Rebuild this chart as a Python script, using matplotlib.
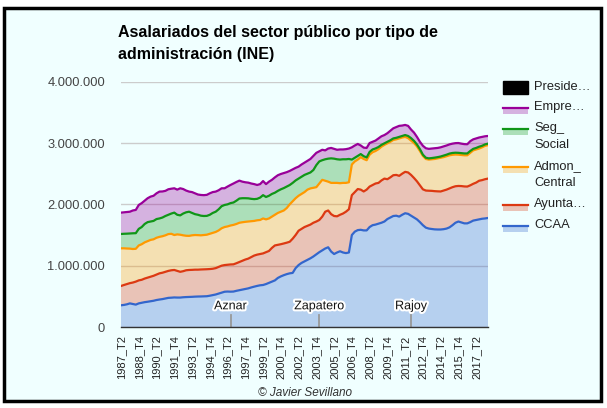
import numpy as np
import matplotlib
matplotlib.use("Agg")
import matplotlib.pyplot as plt
from matplotlib.patches import Rectangle
from matplotlib.lines import Line2D
import matplotlib.patheffects as pe

plt.rcParams['font.family'] = ['Liberation Sans', 'DejaVu Sans']

# ---------------- data (thousands of employees, quarterly 1987_T2 .. 2018_T2) ----------------
first_year, first_q = 1987, 2
n_quarters = 125
quarters = []
y, q = first_year, first_q
for _ in range(n_quarters):
    quarters.append(f"{y}_T{q}")
    q += 1
    if q > 4:
        q = 1
        y += 1

ccaa = [354, 360, 370, 385, 375, 365, 385, 395, 405, 412, 420, 428, 440, 448, 455, 465, 475, 478, 482, 480,
        480, 485, 488, 490, 492, 495, 497, 498, 500, 502, 510, 520, 530, 545, 560, 575, 578, 576, 578, 590,
        600, 610, 620, 630, 645, 658, 670, 680, 685, 700, 720, 740, 760, 800, 825, 845, 862, 875, 882, 960,
        1010, 1045, 1070, 1095, 1120, 1150, 1185, 1220, 1250, 1280, 1300, 1230, 1190, 1215, 1235, 1215, 1205, 1215, 1500, 1555,
        1580, 1585, 1575, 1575, 1630, 1660, 1670, 1685, 1700, 1720, 1760, 1785, 1810, 1815, 1800, 1830, 1855, 1845, 1815, 1785,
        1755, 1710, 1660, 1620, 1605, 1598, 1592, 1590, 1590, 1595, 1605, 1625, 1660, 1700, 1720, 1705, 1690, 1690, 1710, 1735,
        1745, 1755, 1765, 1770, 1778]

ayuntamientos = [315, 325, 330, 330, 350, 375, 375, 375, 385, 393, 400, 407, 415, 427, 430, 435, 440, 447, 448, 435,
                 420, 425, 437, 440, 440, 440, 438, 440, 440, 440, 435, 430, 430, 435, 440, 435, 437, 444, 444, 450,
                 460, 470, 480, 485, 495, 507, 510, 510, 515, 520, 520, 550, 570, 540, 525, 517, 513, 515, 558, 540,
                 560, 555, 560, 555, 550, 550, 535, 525, 550, 600, 600, 610, 620, 590, 595, 635, 675, 705, 650, 645,
                 670, 655, 635, 665, 660, 655, 670, 665, 690, 700, 650, 655, 665, 665, 665, 670, 675, 675, 665, 645,
                 620, 600, 585, 605, 617, 622, 623, 622, 620, 630, 635, 635, 620, 595, 580, 593, 602, 600, 600, 600,
                 610, 630, 630, 640, 642]

admon_central = [614, 598, 580, 563, 547, 535, 570, 580, 590, 595, 600, 595, 600, 595, 595, 595, 600, 595, 570, 595,
                 605, 585, 563, 556, 563, 565, 563, 557, 560, 563, 575, 585, 590, 595, 610, 620, 625, 635, 643, 640,
                 640, 628, 615, 605, 585, 565, 560, 555, 570, 535, 530, 510, 500, 520, 530, 538, 565, 610, 610, 600,
                 570, 570, 570, 590, 590, 570, 560, 595, 600, 505, 470, 510, 540, 545, 515, 500, 470, 440, 500, 500,
                 480, 530, 530, 480, 520, 535, 530, 550, 550, 550, 585, 580, 575, 580, 610, 590, 570, 560, 560, 570,
                 570, 560, 545, 515, 508, 515, 525, 538, 550, 545, 545, 540, 528, 517, 510, 507, 508, 510, 530, 545,
                 540, 525, 535, 545, 545]

seg_social = [234, 237, 242, 247, 256, 255, 270, 280, 300, 310, 300, 300, 305, 300, 305, 315, 315, 330, 365, 320,
              315, 355, 382, 394, 365, 340, 332, 320, 310, 307, 310, 325, 330, 345, 360, 360, 360, 365, 365, 380,
              395, 392, 385, 378, 365, 355, 350, 365, 380, 365, 370, 370, 360, 360, 365, 365, 350, 315, 300, 290,
              280, 280, 280, 260, 260, 290, 360, 360, 320, 350, 375, 400, 395, 385, 385, 385, 385, 380, 80, 60,
              60, 50, 45, 45, 45, 45, 42, 35, 30, 25, 25, 25, 25, 25, 25, 25, 30, 35, 40, 35,
              30, 30, 20, 20, 20, 20, 22, 20, 20, 25, 25, 28, 30, 30, 30, 30, 30, 30, 30, 25,
              25, 30, 25, 23, 25]

empresas = [348, 350, 353, 355, 372, 379, 390, 390, 380, 390, 406, 410, 420, 438, 425, 410, 416, 405, 397, 410,
            442, 400, 355, 328, 340, 340, 330, 338, 340, 343, 350, 340, 328, 310, 292, 272, 290, 296, 310, 305,
            292, 270, 260, 256, 250, 245, 226, 220, 230, 210, 230, 230, 250, 255, 250, 245, 235, 230, 220, 205,
            195, 200, 200, 210, 220, 230, 200, 165, 170, 145, 165, 170, 160, 155, 165, 160, 165, 170, 200, 200,
            195, 140, 140, 155, 145, 125, 128, 140, 140, 135, 140, 155, 165, 175, 180, 170, 165, 165, 140, 135,
            125, 120, 145, 155, 155, 155, 153, 150, 150, 150, 150, 150, 152, 156, 160, 155, 152, 150, 160, 155,
            155, 150, 145, 132, 125]

# presidencia: listed in the legend, no visible values in the plot
presidencia = []

legend_labels = ["Preside…", "Empre…", "Seg_\nSocial", "Admon_\nCentral", "Ayunta…", "CCAA"]

president_labels = ["Aznar", "Zapatero", "Rajoy"]
president_start = ["1996_T3", "2004_T1", "2011_T4"]

# ---------------- styling ----------------
bg = "#F0FFFF"
colors = ["#3366CC", "#DC3912", "#FF9900", "#109618", "#990099"]

W, H = 607, 408
fig = plt.figure(figsize=(W / 100, H / 100), dpi=100, facecolor="white")

def fx(px):
    return px / W

def fy(py):
    return 1 - py / H

# framed background
fig.patches.append(Rectangle((fx(4), fy(401)), fx(597), 393 / H, transform=fig.transFigure,
                             facecolor=bg, edgecolor="black", linewidth=2.5, zorder=-10))

ax = fig.add_axes([fx(121), fy(327), fx(367), (327 - 81.7) / H])
ax.patch.set_alpha(0)

x = np.arange(len(quarters))
data = np.array([ccaa, ayuntamientos, admon_central, seg_social, empresas], dtype=float) * 1000
ax.stackplot(x, data, colors=colors, alpha=0.3, linewidth=0, zorder=2)
tops = np.cumsum(data, axis=0)
for top, c in zip(tops, colors):
    ax.plot(x, top, color=c, lw=1.6, zorder=3, solid_joinstyle="round")

ax.set_xlim(0, len(quarters) - 1)
ax.set_ylim(0, 4e6)
yt = [0, 1e6, 2e6, 3e6, 4e6]
ax.set_yticks(yt)
ax.set_yticklabels([f"{int(v):,}".replace(",", ".") for v in yt], fontsize=9.3, color="#444444")
ax.yaxis.grid(True, color="#CCCCCC", lw=1, zorder=0)
ax.set_axisbelow(True)
ax.tick_params(axis="y", length=0, pad=11.5)

xt = list(range(0, len(quarters), 6))
ax.set_xticks(xt)
ax.set_xticklabels([quarters[i] for i in xt], rotation=90, fontsize=8.0, color="#222222")
ax.tick_params(axis="x", length=0, pad=6)

for s in ["top", "right", "left"]:
    ax.spines[s].set_visible(False)
ax.spines["bottom"].set_color("#333333")
ax.spines["bottom"].set_linewidth(1)
ax.spines["bottom"].set_zorder(5)

# president annotations
for lab, qlab in zip(president_labels, president_start):
    xi = quarters.index(qlab)
    ax.plot([xi, xi], [0, 0.19e6], color="#999999", lw=1.3, zorder=4)
    ax.text(xi, 0.24e6, lab, ha="center", va="bottom", fontsize=9, color="#111111", zorder=6,
            path_effects=[pe.withStroke(linewidth=3, foreground="white")])

# title
fig.text(fx(118), fy(33), "Asalariados del sector público por tipo de", fontsize=11.5,
         fontweight="bold", ha="left", va="center", color="black")
fig.text(fx(118), fy(54), "administración (INE)", fontsize=11.5,
         fontweight="bold", ha="left", va="center", color="black")

# credit
fig.text(fx(305), fy(393), "© Javier Sevillano", fontsize=8.5, style="italic",
         ha="center", va="center", color="#333333")

# legend (manual)
leg_x0, leg_x1, tx = 503, 528, 534
fig.patches.append(Rectangle((fx(leg_x0), fy(94)), fx(leg_x1 - leg_x0), 13 / H,
                             transform=fig.transFigure, facecolor="black", edgecolor="black"))
fig.text(fx(tx), fy(87), legend_labels[0], fontsize=9.3, color="#222222", va="center", ha="left")

legend_rows = [(legend_labels[1], 4, 108), (legend_labels[2], 3, 129), (legend_labels[3], 2, 167),
               (legend_labels[4], 1, 205), (legend_labels[5], 0, 226)]
for lab, idx, yl in legend_rows:
    c = colors[idx]
    fig.patches.append(Rectangle((fx(leg_x0), fy(yl + 6)), fx(leg_x1 - leg_x0), 6 / H,
                                 transform=fig.transFigure, facecolor=c, alpha=0.3, edgecolor="none"))
    fig.lines.append(Line2D([fx(leg_x0), fx(leg_x1)], [fy(yl), fy(yl)], transform=fig.transFigure,
                            color=c, lw=1.6))
    for k, t in enumerate(lab.split("\n")):
        fig.text(fx(tx), fy(yl - 1 + 17.5 * k), t, fontsize=9.3, color="#222222", va="center", ha="left")

fig.savefig("out.png", dpi=100, facecolor="white")
